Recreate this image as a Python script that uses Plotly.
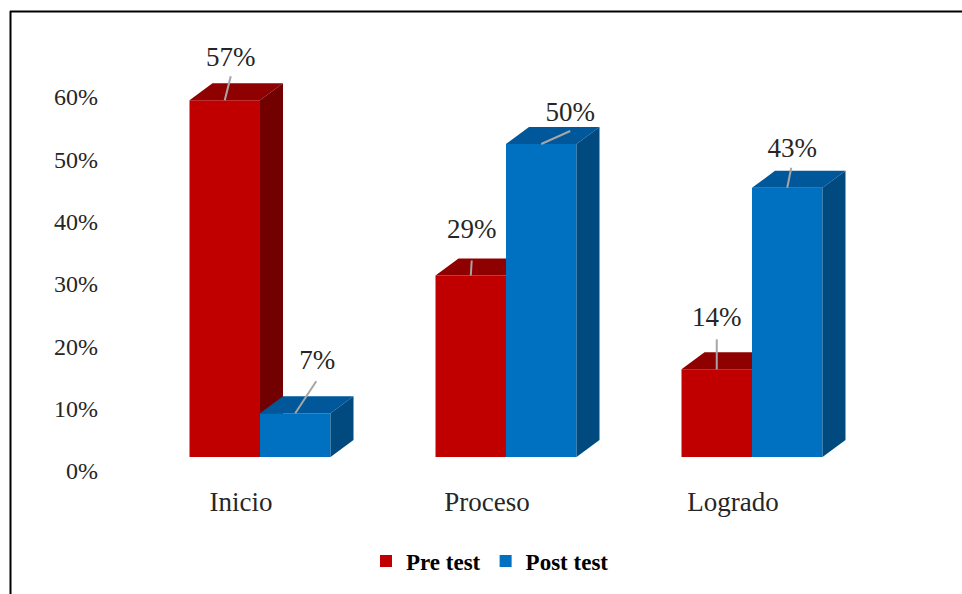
import plotly.graph_objects as go

categories = ["Inicio", "Proceso", "Logrado"]
pre_test = [57, 29, 14]
post_test = [7, 50, 43]
tick_values = [0, 10, 20, 30, 40, 50, 60]
tick_labels = ["0%", "10%", "20%", "30%", "40%", "50%", "60%"]

W, H = 962, 594
L, R, T, B = 100, 900, 40, 480
PX_CAT, CAT0 = 246, 260
PX_VAL, BASE = 6.26, 457
TICK_PX, TICK0 = 6.233, 471
BAR_W = 70.5 / PX_CAT
DX, DY = 23 / PX_CAT, 17 / PX_VAL
FONT = "Liberation Serif"

# pixel offsets from the front-top centre of each bar: label dx, label dy, leader end dx, leader end dy
pre_off = [(6, 41, 6, 24), (1, 44, 1, 15), (0, 50, 0, 30)]
post_off = [(22, 51, 21, 32), (29, 30, 29, 13), (5, 38, 4, 20)]

x_range = [(L - CAT0) / PX_CAT, (R - CAT0) / PX_CAT]
y_range = [(BASE - B) / PX_VAL, (BASE - T) / PX_VAL]
tick_range = [(TICK0 - B) / TICK_PX, (TICK0 - T) / TICK_PX]
xs = list(range(len(categories)))

fig = go.Figure()
# carrier for the tick-label axis
fig.add_trace(go.Scatter(x=[None], y=[None], yaxis="y", showlegend=False, hoverinfo="skip"))


def series(name, vals, yaxis, offset, color, top_col, side_col):
    fig.add_trace(go.Bar(name=name, x=xs, y=vals, width=BAR_W, offset=offset, yaxis=yaxis,
                         marker=dict(color=color, line=dict(width=0))))
    for i, v in zip(xs, vals):
        x0 = i + offset
        x1 = x0 + BAR_W
        fig.add_trace(go.Scatter(x=[x0, x1, x1 + DX, x0 + DX, x0], y=[v, v, v + DY, v + DY, v],
                                 fill="toself", fillcolor=top_col, mode="lines", line=dict(width=0),
                                 yaxis=yaxis, showlegend=False, hoverinfo="skip"))
        fig.add_trace(go.Scatter(x=[x1, x1 + DX, x1 + DX, x1, x1], y=[0, DY, v + DY, v, 0],
                                 fill="toself", fillcolor=side_col, mode="lines", line=dict(width=0),
                                 yaxis=yaxis, showlegend=False, hoverinfo="skip"))


series("Pre test", pre_test, "y2", -BAR_W, "#C00000", "#8F0000", "#720000")
series("Post test", post_test, "y3", 0, "#0070C0", "#00589A", "#004A80")


def labels(vals, offset, off):
    for i, v, o in zip(xs, vals, off):
        cx = i + offset + BAR_W / 2
        fig.add_trace(go.Scatter(x=[cx, cx + o[2] / PX_CAT], y=[v, v + o[3] / PX_VAL],
                                 mode="lines", line=dict(color="#A6A6A6", width=2),
                                 yaxis="y3", showlegend=False, hoverinfo="skip"))
        fig.add_trace(go.Scatter(x=[cx + o[0] / PX_CAT], y=[v + o[1] / PX_VAL], mode="text",
                                 text=[f"{v}%"], textposition="middle center",
                                 textfont=dict(family=FONT, size=27, color="#262626"),
                                 yaxis="y3", showlegend=False, hoverinfo="skip"))


labels(pre_test, -BAR_W, pre_off)
labels(post_test, 0, post_off)

dom_y = [1 - B / H, 1 - T / H]
hidden = dict(domain=dom_y, range=y_range, overlaying="y", visible=False, fixedrange=True)
fig.update_layout(
    width=W, height=H, autosize=False, margin=dict(l=0, r=0, t=0, b=0, pad=0, autoexpand=False),
    paper_bgcolor="white", plot_bgcolor="white", showlegend=True,
    xaxis=dict(domain=[L / W, R / W], range=x_range, tickvals=xs, ticktext=categories,
               showgrid=False, zeroline=False, showline=False, ticks="", ticklabelshift=-19,
               ticklabelstandoff=3, tickfont=dict(family=FONT, size=27, color="#262626")),
    yaxis=dict(domain=dom_y, range=tick_range, tickvals=tick_values, ticktext=tick_labels,
               showgrid=False, zeroline=False, showline=False, ticks="",
               ticklabelstandoff=1, tickfont=dict(family=FONT, size=24, color="#262626")),
    yaxis2=hidden, yaxis3=hidden,
    legend=dict(orientation="h", x=490 / W, xanchor="center", y=1 - 561 / H, yanchor="middle",
                font=dict(family=FONT, size=23, color="black", weight="bold"),
                itemsizing="constant", bgcolor="rgba(0,0,0,0)"),
    shapes=[
        dict(type="line", xref="paper", yref="paper", x0=10 / W, x1=1, y0=1 - 11.5 / H, y1=1 - 11.5 / H,
             line=dict(color="black", width=2)),
        dict(type="line", xref="paper", yref="paper", x0=10.5 / W, x1=10.5 / W, y0=0, y1=1 - 11 / H,
             line=dict(color="black", width=2)),
    ],
)
fig.write_html(
    "out.html",
    config={"displayModeBar": False},
    default_width="962px",
    default_height="594px",
    post_script="document.body.style.margin='0';document.body.style.overflow='hidden';"
                "document.documentElement.style.overflow='hidden';",
)
